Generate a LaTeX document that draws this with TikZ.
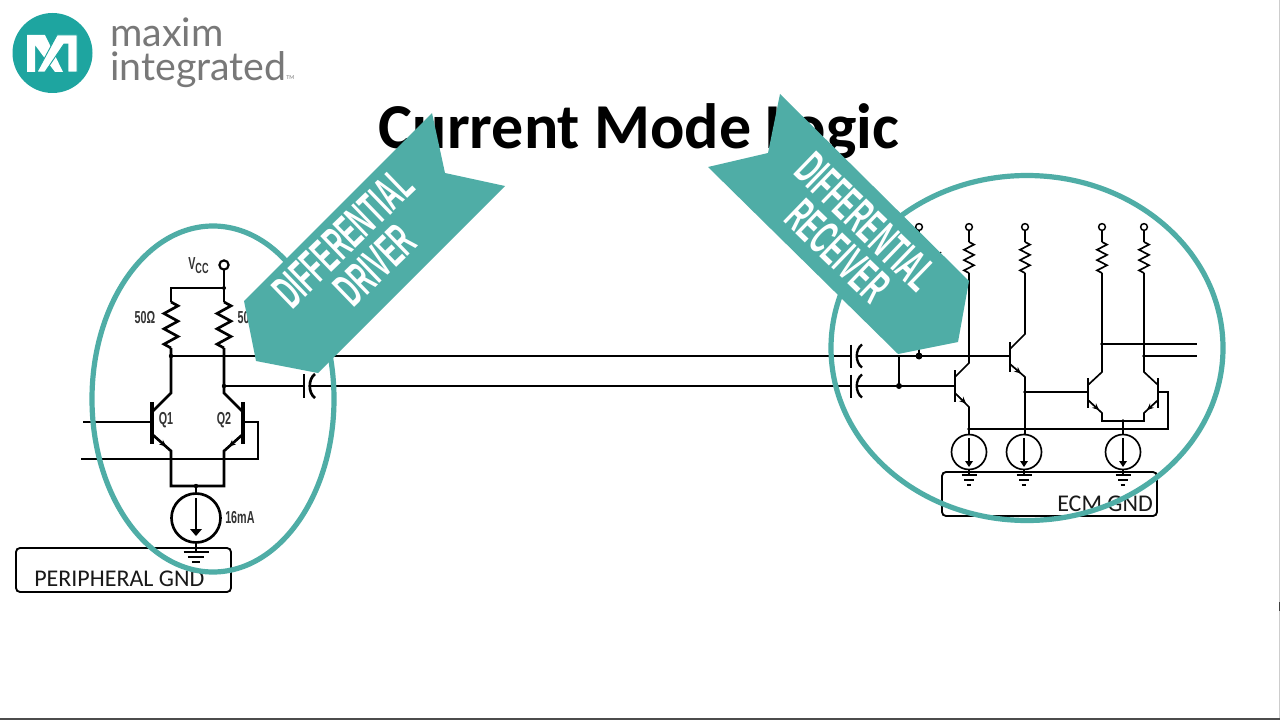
\documentclass[tikz,border=0pt]{standalone}
\usepackage{fontspec}
\usetikzlibrary{arrows.meta}
\setmainfont{Carlito}
\newfontfamily\lato{Lato}
\newfontfamily\din[FakeStretch=0.5]{Liberation Sans}
\newfontfamily\dinsmall[FakeStretch=0.62]{Liberation Sans}
\definecolor{teal1}{RGB}{79,173,166}
\definecolor{logoteal}{RGB}{30,165,160}
\definecolor{logogray}{RGB}{120,120,120}
\definecolor{edgegray}{RGB}{205,205,205}
\tikzset{
  wireL/.style={line width=2pt,black},
  wireR/.style={line width=1.25pt,black},
  gndbox/.style={line width=1.4pt,black,rounded corners=3pt},
  ring/.style={draw=teal1,line width=3.9pt},
  banner/.style={fill=teal1,draw=none},
  smalllabel/.style={font=\dinsmall\fontsize{13}{14}\selectfont\bfseries,inner sep=0pt,text=black!80},
  bannertext/.style={font=\din\fontsize{36}{38}\selectfont\bfseries,text=white,inner sep=0pt,align=center},
  boxtext/.style={font=\fontsize{18}{20}\selectfont,inner sep=0pt,text=black!90},
  tip/.style={-{Stealth[length=5pt,width=4.5pt]}},
}
\newcommand\zigres[4]{%
  \pgfmathsetmacro\zs{(#3-#2)/6}%
  \draw (#1,#2) -- ++(#4,\zs*0.5) -- ++(-2*#4,\zs) -- ++(2*#4,\zs) -- ++(-2*#4,\zs) -- ++(2*#4,\zs) -- ++(-2*#4,\zs) -- (#1,#3);}
\newcommand\capac[3]{%
  \draw (#1,#2-#3) -- (#1,#2+#3);
  \draw (#1+11,#2-#3) .. controls (#1+4,#2-#3+5) and (#1+4,#2+#3-5) .. (#1+11,#2+#3);}
\newcommand\gsym[3]{%
  \draw (#1-#3,#2) -- (#1+#3,#2);
  \draw (#1-#3*0.65,#2+5) -- (#1+#3*0.65,#2+5);
  \draw (#1-#3*0.33,#2+10) -- (#1+#3*0.33,#2+10);}
\begin{document}
\begin{tikzpicture}[x=0.75pt,y=-0.75pt]
\useasboundingbox (0,0) rectangle (1280,720);
\fill[white] (0,0) rectangle (1280,720);
\fill[edgegray] (1279,0) rectangle (1280,720);
\fill[black!75] (1279,602) rectangle (1280,611);
\fill[black!70] (0,718) rectangle (1280,720);
% logo
\fill[logoteal] (52.5,53) circle (40);
\fill[white] (27,35) -- (45,35) -- (63,72) -- (55,72) -- (35,45) -- (35,72) -- (27,72) -- cycle;
\fill[white,draw=logoteal,line width=0.7pt] (57,35) -- (77,35) -- (77,72) -- (68,72) -- (68,44) -- (64,44) -- (45,72) -- (37,72) -- cycle;
\node[anchor=base west,inner sep=0pt,font=\lato\fontsize{29.5}{32}\selectfont,text=logogray] (logo1) at (110,47) {maxim};
\node[anchor=base west,inner sep=0pt,font=\lato\fontsize{29.5}{32}\selectfont,text=logogray] (logo2) at (110,80.5) {integrated};
\node[anchor=base west,inner sep=0pt,font=\lato\fontsize{4}{5}\selectfont,text=logogray] (logo3) at (286,80) {TM};
% title
\node[font=\bfseries\fontsize{48}{52}\selectfont,inner sep=0pt,anchor=base] (title) at (639,148.5) {Current Mode Logic};
% ---------- driver ----------
\begin{scope}[wireL]
  \draw (224,269.5) -- (224,302);
  \draw (224,288) -- (171,288) -- (171,302);
  \zigres{171}{302}{348}{7}
  \zigres{224}{302}{348}{7}
  \draw (171,348) -- (171,393) -- (153,411);
  \draw (224,348) -- (224,393) -- (242,411);
  \draw[line width=2.6pt] (152,402) -- (152,444);
  \draw[line width=2.6pt] (243,402) -- (243,444);
  \draw (153,435) -- (171,451) -- (171,486) -- (224,486) -- (224,451) -- (242,435);
  \draw (83,422) -- (152,422);
  \draw (243,422) -- (258,422) -- (258,459) -- (81,459);
  \draw (196,486) -- (196,493);
  \draw (196,518) circle (24.5);
  \draw (196,498) -- (196,530);
  \fill (196,536) -- (190,529) -- (202,529) -- cycle;
  \draw (196,542) -- (196,552);
  \gsym{196}{552}{12.5}
  \draw (171,356) -- (851,356);
  \draw (856,356) -- (1010,356);
  \draw (224,386) -- (304,386);
  \draw (309,386) -- (851,386);
  \draw (856,386) -- (955,386);
  \capac{304}{386}{12}
  \fill (224,386) circle (2.2);
  \fill (196,486) circle (2.2);
  \fill (224,288) circle (2);
  \fill (171,356) circle (2.2);
\end{scope}
\draw[line width=1.6pt,fill=white] (224,265) circle (4.6);
\draw[tip,line width=1pt] (155,437) -- (166,446.5);
\draw[tip,line width=1pt] (240,437) -- (229,446.5);
\node[smalllabel,anchor=west] (vcc) at (188,266) {V\raisebox{-3pt}{\fontsize{11}{12}\selectfont CC}};
\node[smalllabel] (r1) at (145,318) {50Ω};
\node[smalllabel] (r2) at (248,318) {50Ω};
\node[smalllabel] (q1) at (166,420) {Q1};
\node[smalllabel] (q2) at (224,420) {Q2};
\node[smalllabel,anchor=west] (ma) at (225,518) {16mA};
\draw[gndbox] (16,548) rectangle (231,592);
\node[boxtext,anchor=base west] (pgnd) at (34,586) {PERIPHERAL GND};
% ---------- receiver ----------
\begin{scope}[wireR]
  \draw (919,231) -- (919,356);
  \draw (969,231) -- (969,242);
  \draw (1025,231) -- (1025,242);
  \draw (1102,231) -- (1102,242);
  \draw (1144,231) -- (1144,242);
  \zigres{969}{242}{273}{5}
  \zigres{1025}{242}{273}{5}
  \zigres{1102}{242}{273}{5}
  \zigres{1144}{242}{273}{5}
  \draw (969,273) -- (969,363) -- (955,377);
  \draw[line width=1.9pt] (955,370) -- (955,402);
  \draw (955,393) -- (969,407) -- (969,435);
  \draw (1025,273) -- (1025,334) -- (1010,349);
  \draw[line width=1.9pt] (1010,342) -- (1010,372);
  \draw (1010,364) -- (1025,377) -- (1025,435);
  \draw (1025,392) -- (1088,392);
  \draw (1102,273) -- (1102,372) -- (1088,385);
  \draw[line width=1.9pt] (1088,378) -- (1088,408);
  \draw (1088,400) -- (1102,413) -- (1102,421) -- (1144,421) -- (1144,413) -- (1158,400);
  \draw (1144,273) -- (1144,372) -- (1158,385);
  \draw[line width=1.9pt] (1158,378) -- (1158,408);
  \draw (1158,392) -- (1168,392) -- (1168,429) -- (969,429);
  \draw (1123,421) -- (1123,435);
  \draw (1102,344) -- (1197,344);
  \draw (1144,356) -- (1197,356);
  \foreach \sx in {969,1024,1123}{
    \draw (\sx,452) circle (17.5);
    \draw (\sx,438) -- (\sx,462);
    \fill (\sx,467) -- (\sx-4,461) -- (\sx+4,461) -- cycle;
    \draw (\sx,469) -- (\sx,475);
    \gsym{\sx}{475}{7.5}
  }
  \draw (899,356) -- (899,386);
\end{scope}
\begin{scope}[wireL,line width=1.8pt]
  \capac{851}{356}{11.5}
  \capac{851}{386}{11.5}
\end{scope}
\fill (899,386) circle (3);
\fill (919,356) circle (3.5);
\fill (969,429) circle (1.8);
\fill (1025,392) circle (1.8);
\fill (1102,344) circle (1.8);
\fill (1144,356) circle (1.8);
\fill (1123,421) circle (1.8);
\foreach \cx in {919,969,1025,1102,1144}{
  \draw[line width=1.1pt,fill=white] (\cx,227) circle (3.4);
}
\draw[tip,line width=0.8pt] (957,395) -- (966,403.5);
\draw[tip,line width=0.8pt] (1012,366) -- (1021,373.5);
\draw[tip,line width=0.8pt] (1090,402) -- (1099,410);
\draw[tip,line width=0.8pt] (1156,402) -- (1147,410);
\draw[line width=0.8pt] (938,252) arc (180:0:1.6);
\draw[gndbox] (942,472) rectangle (1157,516);
\node[boxtext,anchor=base west] (egnd) at (1057,511) {ECM GND};
% ---------- rings ----------
\draw[ring] (213,399) ellipse (121 and 173);
\draw[ring] (1027,348) ellipse (196 and 172.5);
% ---------- banners ----------
\fill[banner] (432,113) -- (445,173) -- (505,186) -- (318,373) -- (256,361) -- (244,301) -- cycle;
\fill[banner] (780,94) -- (768,153) -- (708,167) -- (898,354) -- (958,342) -- (969,281) -- cycle;
\node[bannertext,rotate=44] (t1) at (343,238) {DIFFERENTIAL};
\node[bannertext,rotate=44] (t2) at (375,265) {DRIVER};
\node[bannertext,rotate=-44] (t3) at (866,222) {DIFFERENTIAL};
\node[bannertext,rotate=-44] (t4) at (838,251) {RECEIVER};
\end{tikzpicture}
\end{document}
